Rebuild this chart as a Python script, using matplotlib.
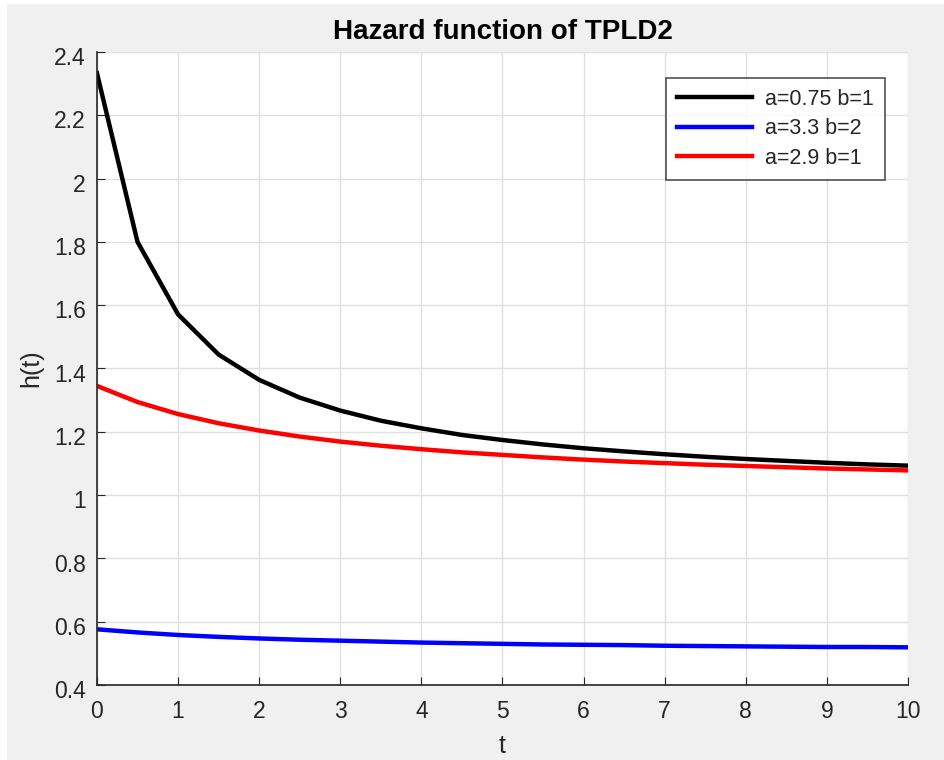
import numpy as np
import matplotlib
matplotlib.use("Agg")
import matplotlib.pyplot as plt
from matplotlib.patches import Rectangle
from matplotlib.transforms import ScaledTranslation

plt.rcParams['font.family'] = ['Liberation Sans', 'DejaVu Sans']

# time grid and hazard values for the three parameter sets
t = [0, 0.5, 1, 1.5, 2, 2.5, 3, 3.5, 4, 4.5, 5, 5.5, 6, 6.5, 7, 7.5, 8, 8.5, 9, 9.5, 10]
h_075_1 = [2.333, 1.800, 1.571, 1.444, 1.364, 1.308, 1.267, 1.235, 1.211, 1.190, 1.174,
           1.160, 1.148, 1.138, 1.129, 1.121, 1.114, 1.108, 1.102, 1.097, 1.093]
h_33_2 = [0.576, 0.566, 0.558, 0.552, 0.547, 0.543, 0.540, 0.537, 0.534, 0.532, 0.530,
          0.528, 0.527, 0.526, 0.524, 0.523, 0.522, 0.521, 0.520, 0.520, 0.519]
h_29_1 = [1.345, 1.294, 1.256, 1.227, 1.204, 1.185, 1.169, 1.156, 1.145, 1.135, 1.127,
          1.119, 1.112, 1.106, 1.101, 1.096, 1.092, 1.088, 1.084, 1.081, 1.078]
labels = ['a=0.75 b=1', 'a=3.3 b=2', 'a=2.9 b=1']

txt = '#262626'
fig = plt.figure(figsize=(9.45, 7.6), dpi=100, facecolor='white')
# grey window area, leaving a thin white strip on the top and left
fig.patches.append(Rectangle((7 / 945, 0), 1, 1 - 4 / 760, transform=fig.transFigure,
                             facecolor='#f0f0f0', edgecolor='none', zorder=-10))
ax = fig.add_axes([0.1026, 0.0987, 0.8582, 0.8329])
ax.set_facecolor('white')

ax.plot(t, h_075_1, color='black', lw=3.2, label=labels[0])
ax.plot(t, h_33_2, color='blue', lw=3.2, label=labels[1])
ax.plot(t, h_29_1, color='red', lw=3.2, label=labels[2])

ax.set_xlim(0, 10)
ax.set_ylim(0.4, 2.4)
ax.set_xticks(range(0, 11))
ax.set_yticks(np.arange(0.4, 2.41, 0.2))
ax.set_yticklabels(['0.4', '0.6', '0.8', '1', '1.2', '1.4', '1.6', '1.8', '2', '2.2', '2.4'])
ax.grid(True, color='#e0e0e0', lw=1)
ax.set_axisbelow(True)

for s in ['top', 'right']:
    ax.spines[s].set_visible(False)
for s in ['left', 'bottom']:
    ax.spines[s].set_color(txt)
    ax.spines[s].set_linewidth(1.2)
ax.tick_params(direction='in', length=6, colors=txt, labelsize=16.5)
ax.tick_params(axis='x', pad=11)
ax.tick_params(axis='y', pad=8)
# y tick labels sit a little below their grid lines
shift = ScaledTranslation(0, -3 / 72, fig.dpi_scale_trans)
for lab in ax.get_yticklabels():
    lab.set_transform(lab.get_transform() + shift)

ax.set_title('Hazard function of TPLD2', fontsize=20, fontweight='bold', color='black', pad=9)
ax.set_xlabel('t', fontsize=18, color=txt, labelpad=8)
ax.set_ylabel('h(t)', fontsize=18, color=txt, labelpad=8)

leg = ax.legend(loc='upper right', bbox_to_anchor=(0.9716, 0.959), borderaxespad=0,
                fontsize=15.5, frameon=True, fancybox=False, handlelength=3.5,
                borderpad=0.5, labelspacing=0.4, handletextpad=0.6)
leg.get_frame().set_edgecolor(txt)
leg.get_frame().set_linewidth(1.2)
for text in leg.get_texts():
    text.set_color(txt)

fig.savefig('out.png', dpi=100, facecolor=fig.get_facecolor())
